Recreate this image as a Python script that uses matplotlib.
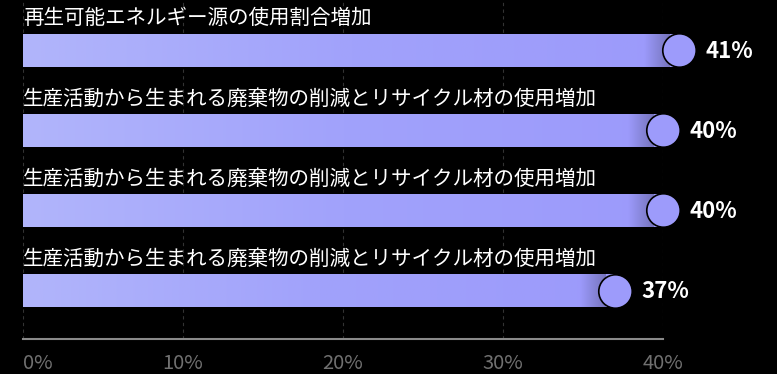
import numpy as np
import matplotlib.pyplot as plt
from matplotlib.colors import LinearSegmentedColormap

plt.rcParams['font.family'] = ['Noto Sans CJK JP', 'DejaVu Sans']

labels = [
    '再生可能エネルギー源の使用割合増加',
    '生産活動から生まれる廃棄物の削減とリサイクル材の使用増加',
    '生産活動から生まれる廃棄物の削減とリサイクル材の使用増加',
    '生産活動から生まれる廃棄物の削減とリサイクル材の使用増加',
]
values = [41, 40, 40, 37]
ticks = [0, 10, 20, 30, 40]
tick_labels = ['0%', '10%', '20%', '30%', '40%']

fig = plt.figure(figsize=(7.77, 3.74), dpi=100, facecolor='black')
ax = fig.add_axes([23 / 777, 1 - 339 / 374, 640 / 777, 339 / 374])
ax.set_facecolor('black')
ax.set_xlim(0, 40)
ax.set_ylim(3.606, -0.63)

# gradient for bars
cmap = LinearSegmentedColormap.from_list('bar', ['#b1b5fb', '#a1a2fb', '#9c9afb'])
grad = np.linspace(0, 1, 256).reshape(1, -1)
shadow = LinearSegmentedColormap.from_list(
    'sh', [(0, 0, 0, 0), (0, 0, 0, 0.25)])

bar_h = 0.41
for i, (lab, v) in enumerate(zip(labels, values)):
    ax.imshow(grad, cmap=cmap, aspect='auto', extent=(0, v, i + bar_h / 2, i - bar_h / 2),
              zorder=2, interpolation='bicubic', clip_on=False)
    ax.imshow(grad, cmap=shadow, aspect='auto',
              extent=(v - 2.2, v - 0.6, i + bar_h / 2, i - bar_h / 2),
              zorder=2.5, interpolation='bicubic', clip_on=False)
    ax.scatter([v], [i], s=580, color='#9d9bfb', edgecolor='black', linewidth=1.2,
               zorder=3, clip_on=False)
    ax.text(0, i - 0.40, lab, color='white', fontsize=14.8, va='center', ha='left',
            zorder=4)
    ax.annotate(f'{v}%', (v, i), xytext=(19, -1), textcoords='offset points',
                color='white', fontsize=16, fontweight='bold', va='center', ha='left',
                annotation_clip=False)

ax.set_xticks(ticks)
ax.set_xticklabels(tick_labels)
ax.tick_params(axis='x', length=0, pad=10, labelsize=14.5, labelcolor='#707070')
ax.get_xticklabels()[0].set_ha('left')
ax.set_yticks([])
ax.grid(axis='x', color='#333333', linestyle=(0, (3, 3)), linewidth=0.8, zorder=1)
for s in ['top', 'right', 'left']:
    ax.spines[s].set_visible(False)
ax.spines['bottom'].set_color('#8a8a8a')
ax.spines['bottom'].set_linewidth(1.5)

fig.savefig('out.png', dpi=100, facecolor='black')
